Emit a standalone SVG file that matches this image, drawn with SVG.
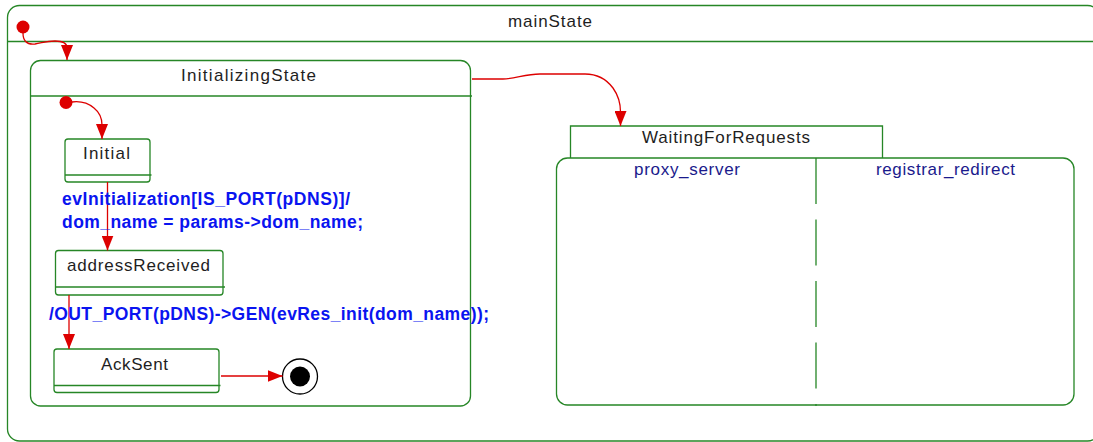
<svg xmlns="http://www.w3.org/2000/svg" width="1093" height="442" viewBox="0 0 1093 442">
  <style>
    .box { fill: #ffffff; stroke: #268626; stroke-width: 1.3; }
    .sep { stroke: #268626; stroke-width: 1.3; fill: none; }
    .name { font-family: "Liberation Sans", Arial, sans-serif; font-size: 17px; fill: #1e1e1e; }
    .region { font-family: "Liberation Sans", Arial, sans-serif; font-size: 17px; fill: #1a1a8c; }
    .label { font-family: "Liberation Sans", Arial, sans-serif; font-size: 17.5px; font-weight: bold; fill: #0a14f0; }
    .tr { fill: none; stroke: #dd0000; stroke-width: 1.3; marker-end: url(#arrow); }
    .dot { fill: #dd0000; }
  </style>
  <defs>
    <marker id="arrow" markerUnits="userSpaceOnUse" markerWidth="15" markerHeight="12" viewBox="0 0 15 12" refX="15" refY="6" orient="auto">
      <path d="M0,0 L15,6 L0,12 Z" fill="#dd0000"/>
    </marker>
  </defs>

  <!-- outer composite state -->
  <g id="mainState">
    <rect class="box" x="7.5" y="5.5" width="1092" height="435.5" rx="12"/>
    <line class="sep" x1="7.5" y1="41.5" x2="1093" y2="41.5"/>
    <text class="name" x="508" y="27" textLength="84" lengthAdjust="spacing">mainState</text>
    <circle class="dot" cx="23" cy="27" r="6.5"/>
  </g>

  <!-- initialization sub-machine -->
  <g id="InitializingState">
    <rect class="box" x="30.5" y="60.5" width="440" height="345.5" rx="10"/>
    <line class="sep" x1="30.5" y1="96" x2="472" y2="96"/>
    <text class="name" x="181" y="81" textLength="135" lengthAdjust="spacing">InitializingState</text>
    <circle class="dot" cx="66" cy="102.5" r="6.5"/>
  </g>

  <g id="Initial">
    <rect class="box" x="65" y="139" width="85" height="43" rx="3"/>
    <line class="sep" x1="65" y1="175" x2="151.5" y2="175"/>
    <text class="name" x="83" y="159" textLength="47" lengthAdjust="spacing">Initial</text>
  </g>

  <g id="addressReceived">
    <rect class="box" x="55.5" y="250.5" width="167.5" height="44.5" rx="3"/>
    <line class="sep" x1="55.5" y1="287" x2="225" y2="287"/>
    <text class="name" x="67" y="271" textLength="143" lengthAdjust="spacing">addressReceived</text>
  </g>

  <g id="AckSent">
    <rect class="box" x="54" y="349" width="165" height="43.5" rx="3"/>
    <line class="sep" x1="54" y1="385.5" x2="220.5" y2="385.5"/>
    <text class="name" x="101" y="370" textLength="67" lengthAdjust="spacing">AckSent</text>
  </g>

  <g id="finalState">
    <circle cx="300" cy="376.5" r="17.5" fill="#ffffff" stroke="#000000" stroke-width="1.3"/>
    <circle cx="300" cy="376.5" r="10" fill="#000000"/>
  </g>

  <!-- orthogonal state with two regions -->
  <g id="WaitingForRequests">
    <rect class="box" x="556.5" y="158" width="517.5" height="247" rx="11"/>
    <path class="sep" d="M570.5,158 V126 H882.5 V158"/>
    <line x1="816" y1="158" x2="816" y2="406" stroke="#268626" stroke-width="1.3" stroke-dasharray="46 15.5"/>
    <text class="name" x="642" y="143" textLength="168" lengthAdjust="spacing">WaitingForRequests</text>
    <text class="region" x="634" y="175" textLength="106" lengthAdjust="spacing">proxy_server</text>
    <text class="region" x="876" y="175" textLength="139" lengthAdjust="spacing">registrar_redirect</text>
  </g>

  <!-- transitions -->
  <g id="connectors">
    <path class="tr" d="M23,33 C23,40 26,45 35,44 C42,43 46,41 55,41 C62,41 67,43 67,48 L67,60"/>
    <path class="tr" d="M72,102 C80,101 88,103 94,108 C99,112 102,118 102,125 L102,139"/>
    <path class="tr" d="M107.5,182 L107.5,250.5"/>
    <path class="tr" d="M69,295 L69,349"/>
    <path class="tr" d="M221,376 L282.5,376"/>
    <path class="tr" d="M472,79 L503,79 C515,79 525,74 540,74 L585,74 C598,74 607,80 613,88 C618,95 620.5,102 620.5,112 L620.5,126"/>
  </g>

  <!-- transition labels -->
  <g id="labels">
    <text class="label" x="62" y="205" textLength="288" lengthAdjust="spacing">evInitialization[IS_PORT(pDNS)]/</text>
    <text class="label" x="62" y="228" textLength="301" lengthAdjust="spacing">dom_name = params-&gt;dom_name;</text>
    <text class="label" x="49" y="320" textLength="440" lengthAdjust="spacing">/OUT_PORT(pDNS)-&gt;GEN(evRes_init(dom_name));</text>
  </g>
</svg>
